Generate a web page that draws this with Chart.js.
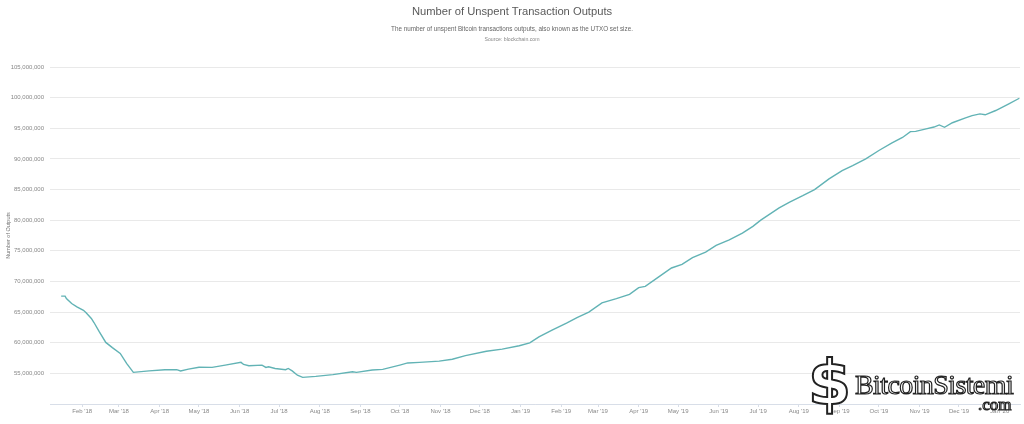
<!DOCTYPE html>
<html>
<head>
<meta charset="utf-8">
<script src="https://cdn.jsdelivr.net/npm/chart.js@4/dist/chart.umd.min.js"></script>
<style>
  html,body{margin:0;padding:0;background:#fff;}
  #wrap{position:relative;width:1024px;height:424px;font-family:"Liberation Sans",Arial,sans-serif;}
  canvas{position:absolute;left:0;top:0;}
  .t{position:absolute;left:0;width:1024px;text-align:center;white-space:nowrap;}
  #title{top:5px;font-size:11.2px;color:#5a5a5a;}
  #sub{top:25px;font-size:6.3px;color:#666;}
  #src{top:36px;font-size:5.2px;color:#888;}
  #logoS{position:absolute;left:808px;top:352px;font-family:"DejaVu Sans",sans-serif;font-weight:bold;font-size:62px;line-height:62px;color:#fff;-webkit-text-stroke:2px #222;}
  #logoT{position:absolute;left:855px;top:371px;font-family:"Liberation Serif",serif;font-size:28px;line-height:28px;color:#fff;-webkit-text-stroke:1.2px #222;letter-spacing:-0.6px;}
  #logoC{position:absolute;left:978px;top:396px;font-family:"Liberation Serif",serif;font-size:17px;line-height:17px;color:#fff;-webkit-text-stroke:1.1px #222;}
</style>
</head>
<body>
<div id="wrap">
  <canvas id="c" width="1024" height="424"></canvas>
  <div class="t" id="title">Number of Unspent Transaction Outputs</div>
  <div class="t" id="sub">The number of unspent Bitcoin transactions outputs, also known as the UTXO set size.</div>
  <div class="t" id="src">Source: blockchain.com</div>
  <div id="logoS">$</div>
  <div id="logoT">BitcoinSistemi</div>
  <div id="logoC">.com</div>
</div>
<script>
const dates = ["2018-01-16","2018-01-19","2018-01-20","2018-01-24","2018-01-28","2018-02-02","2018-02-04","2018-02-08","2018-02-10","2018-02-14","2018-02-19","2018-02-24","2018-03-02","2018-03-07","2018-03-12","2018-03-24","2018-04-05","2018-04-14","2018-04-17","2018-04-23","2018-05-01","2018-05-11","2018-05-21","2018-06-02","2018-06-04","2018-06-08","2018-06-18","2018-06-21","2018-06-23","2018-06-28","2018-07-06","2018-07-08","2018-07-11","2018-07-15","2018-07-19","2018-07-29","2018-08-11","2018-08-26","2018-08-29","2018-09-10","2018-09-18","2018-10-01","2018-10-07","2018-10-16","2018-10-31","2018-11-10","2018-11-20","2018-12-06","2018-12-18","2018-12-31","2019-01-08","2019-01-15","2019-01-25","2019-02-05","2019-02-13","2019-02-22","2019-03-04","2019-03-15","2019-03-25","2019-04-01","2019-04-06","2019-04-16","2019-04-26","2019-05-04","2019-05-12","2019-05-22","2019-05-30","2019-06-09","2019-06-19","2019-06-27","2019-07-03","2019-07-17","2019-07-25","2019-08-04","2019-08-13","2019-08-24","2019-09-03","2019-09-11","2019-09-21","2019-10-01","2019-10-11","2019-10-19","2019-10-25","2019-10-29","2019-11-06","2019-11-12","2019-11-16","2019-11-20","2019-11-26","2019-12-06","2019-12-11","2019-12-17","2019-12-21","2019-12-29","2020-01-08","2020-01-16"];
const utxoMillions = [67.6,67.6,67.2,66.4,65.85,65.3,64.9,63.96,63.3,61.8,60.05,59.2,58.26,56.6,55.16,55.4,55.6,55.6,55.4,55.7,56.0,55.97,56.35,56.8,56.45,56.24,56.35,55.97,56.07,55.8,55.6,55.8,55.4,54.7,54.35,54.5,54.8,55.26,55.16,55.54,55.65,56.35,56.7,56.8,57.0,57.3,57.9,58.6,58.95,59.5,59.98,60.96,62.05,63.2,64.1,65.0,66.5,67.2,67.9,69.0,69.2,70.7,72.2,72.8,73.9,74.8,75.9,76.8,77.9,79.0,80.0,82.0,82.95,84.0,85.0,86.75,88.1,88.9,90.0,91.37,92.6,93.5,94.46,94.5,94.9,95.2,95.55,95.16,95.9,96.7,97.07,97.35,97.2,97.9,99.0,99.9];
const xTickDates = ["2018-02-01","2018-03-01","2018-04-01","2018-05-01","2018-06-01","2018-07-01","2018-08-01","2018-09-01","2018-10-01","2018-11-01","2018-12-01","2019-01-01","2019-02-01","2019-03-01","2019-04-01","2019-05-01","2019-06-01","2019-07-01","2019-08-01","2019-09-01","2019-10-01","2019-11-01","2019-12-01","2020-01-01"];
const xTickLabels = ["Feb '18","Mar '18","Apr '18","May '18","Jun '18","Jul '18","Aug '18","Sep '18","Oct '18","Nov '18","Dec '18","Jan '19","Feb '19","Mar '19","Apr '19","May '19","Jun '19","Jul '19","Aug '19","Sep '19","Oct '19","Nov '19","Dec '19","Jan '20"];
const yTickValues = [50,55,60,65,70,75,80,85,90,95,100,105];
const yTickLabels = ["","55,000,000","60,000,000","65,000,000","70,000,000","75,000,000","80,000,000","85,000,000","90,000,000","95,000,000","100,000,000","105,000,000"];

const epoch = Date.parse("2018-01-01T00:00:00Z");
const dayOf = d => (Date.parse(d + "T00:00:00Z") - epoch) / 864e5;
const points = dates.map((d, i) => ({x: dayOf(d), y: utxoMillions[i]}));
const tickDays = xTickDates.map(dayOf);

new Chart(document.getElementById('c'), {
  type: 'line',
  data: { datasets: [{
    data: points,
    borderColor: '#62b3b5',
    borderWidth: 1.4,
    pointRadius: 0,
    tension: 0,
    fill: false
  }]},
  options: {
    responsive: false,
    animation: false,
    events: [],
    layout: { padding: { top: 67, right: 4, left: 0, bottom: 0 } },
    plugins: { legend: { display: false }, tooltip: { enabled: false } },
    scales: {
      x: {
        type: 'linear',
        min: 6.5,
        max: 745.5,
        afterFit: s => { s.height = 20; },
        afterBuildTicks: s => { s.ticks = tickDays.map(v => ({value: v})); },
        grid: { drawOnChartArea: false, drawTicks: true, tickLength: 3, color: '#d8dee8' },
        border: { color: '#d8dee8', width: 1 },
        ticks: {
          autoSkip: false, maxRotation: 0, padding: 1,
          color: '#888', font: { family: 'Liberation Sans', size: 6 },
          callback: (v, i) => xTickLabels[i]
        }
      },
      y: {
        min: 50,
        max: 105,
        afterFit: s => { s.width = 50; },
        afterBuildTicks: s => { s.ticks = yTickValues.map(v => ({value: v})); },
        grid: { color: '#e9e9e9', drawTicks: false, lineWidth: 1 },
        border: { display: false },
        ticks: {
          padding: 6,
          color: '#888', font: { family: 'Liberation Sans', size: 6 },
          callback: (v, i) => yTickLabels[i]
        },
        title: {
          display: true, text: 'Number of Outputs',
          color: '#777', font: { family: 'Liberation Sans', size: 5.5 },
          padding: { top: 5, bottom: 0 }
        }
      }
    }
  }
});
</script>
</body>
</html>
